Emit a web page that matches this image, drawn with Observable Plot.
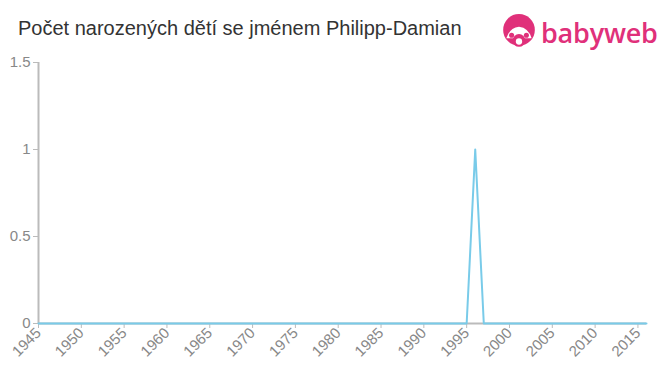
<!DOCTYPE html>
<html><head><meta charset="utf-8">
<script src="https://cdn.jsdelivr.net/npm/d3@7"></script>
<script src="https://cdn.jsdelivr.net/npm/@observablehq/plot@0.6"></script>
<style>
body{margin:0;background:#fff;font-family:"Liberation Sans",Arial,sans-serif;}
#wrap{position:relative;width:660px;height:375px;}
#title{position:absolute;left:18px;top:17px;font-size:20px;color:#333;white-space:nowrap;font-family:"Liberation Sans",Arial,sans-serif;}
#logo{position:absolute;left:500px;top:13px;display:flex;align-items:center;}
#logo span{font-size:27px;color:#e0307a;margin-left:3px;letter-spacing:-0.2px;font-weight:600;font-family:"Open Sans","Liberation Sans",sans-serif;}
svg.plot text{font-size:15px !important;font-family:"Liberation Sans",Arial,sans-serif !important;}
</style></head>
<body><div id="wrap"><div id="title">Počet narozených dětí se jménem Philipp-Damian</div>
<div id="logo"><svg width="38" height="38" viewBox="0 0 36 36"><circle cx="18" cy="16" r="15" fill="#e0307a"/><path d="M6 24 Q9 14 18 13 Q27 14 30 24 Z" fill="#fff"/><circle cx="18" cy="26" r="6" fill="#e0307a"/><circle cx="18" cy="27" r="3" fill="#fff"/><circle cx="11" cy="21" r="2.4" fill="#e0307a"/><circle cx="25" cy="21" r="2.4" fill="#e0307a"/></svg><span>babyweb</span></div>
</div>
<script>
const years = d3.range(1945, 2017);
const counts = years.map(y => y === 1996 ? 1 : 0);
const xTicks = d3.range(1945, 2016, 5);
const yTicks = [0, 0.5, 1, 1.5];
const data = years.map((y, i) => ({year: y, count: counts[i]}));
const chart = Plot.plot({
  className: "plot",
  width: 660, height: 375,
  marginTop: 62, marginBottom: 52, marginLeft: 38, marginRight: 14,
  style: {background: "transparent"},
  x: {domain: [1945, 2016], label: null},
  y: {domain: [0, 1.5], label: null},
  marks: [
    Plot.axisX({ticks: xTicks, tickFormat: d => String(d), tickRotate: -45, stroke: "#bbb", fill: "#888", tickSize: 5, tickPadding: 2, label: null}),
    Plot.axisY({ticks: yTicks, tickFormat: d => String(d), stroke: "#bbb", fill: "#888", tickSize: 5, tickPadding: 3, label: null}),
    Plot.ruleY([0], {stroke: "#bbb", strokeWidth: 2}),
    Plot.ruleX([1945], {stroke: "#bbb", strokeWidth: 2}),
    Plot.lineY(data, {x: "year", y: "count", stroke: "#79cbe9", strokeWidth: 2})
  ]
});
chart.setAttribute("class", (chart.getAttribute("class") || "") + " plot");
chart.style.position = "absolute";
chart.style.left = "0";
chart.style.top = "0";
document.getElementById("wrap").prepend(chart);
</script></body></html>
